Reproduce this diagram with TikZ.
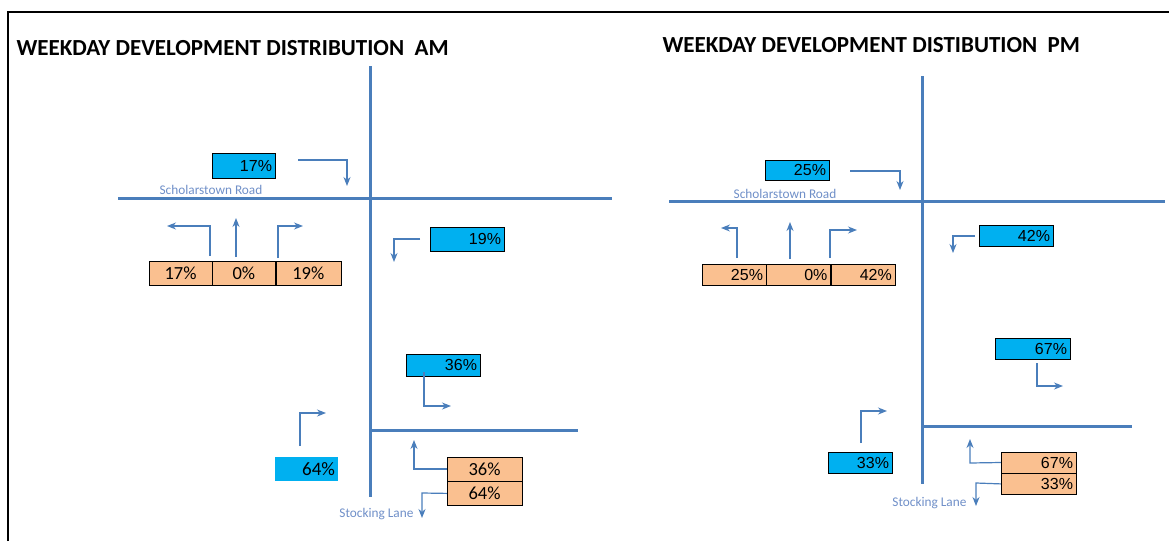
\documentclass[tikz,border=0pt]{standalone}
\usepackage{fontspec}
\setmainfont{Carlito}
\newfontfamily\arialf{Liberation Sans}
\usetikzlibrary{arrows.meta,positioning}
\definecolor{roadblue}{HTML}{4A7EBB}
\definecolor{boxblue}{HTML}{00B0F0}
\definecolor{boxorange}{HTML}{FAC090}
\definecolor{labelblue}{HTML}{6F8FC8}
\begin{document}
\begin{tikzpicture}[x=1pt,y=-1pt,
    road/.style={roadblue,line width=3pt},
    turn/.style={roadblue,line width=1.2pt,-{Stealth[length=9pt,width=7pt]}},
    bluebox/.style={draw,fill=boxblue,inner xsep=3pt,inner ysep=0pt,text width=#1,align=right,font=\arialf\fontsize{16}{18}\selectfont},
    orangebox/.style={draw,fill=boxorange,inner xsep=3pt,inner ysep=0pt,text width=#1,align=center,font=\fontsize{18.5}{20}\selectfont},
    title/.style={anchor=west,font=\bfseries\fontsize{23}{26}\selectfont},
    roadname/.style={labelblue,font=\fontsize{13.3}{15}\selectfont}]
\useasboundingbox (0,0) rectangle (1169,541);
\draw [line width=1.5pt] (8,541) -- (8,12) -- (1169,12);

% AM
\node [title] (tam) at (13,48) {WEEKDAY DEVELOPMENT DISTRIBUTION\ \ AM};
\draw [road] (370,66) -- (370,497);
\draw [road] (118,198) -- (612,198);
\draw [road] (370,430) -- (578,430);
\node [roadname] (sam) at (211,190) {Scholarstown Road};
\node [roadname,anchor=east] (lam) at (417,514) {Stocking Lane};

\node [bluebox=57pt,minimum height=25pt] (a17) at (243.5,165.5) {17\%};
\draw [turn] (298,160) -- (347,160) -- (347,186);

\node [orangebox=57pt,minimum height=24pt] (l17) at (180.5,273) {17\%};
\node [orangebox=57pt,minimum height=24pt,right=0pt of l17] (s0) {0\%};
\node [orangebox=59pt,minimum height=24pt,right=0pt of s0] (r19) {19\%};
\draw [turn] (210,256) -- (210,226) -- (167,226);
\draw [turn] (236,257) -- (236,218);
\draw [turn] (278,258) -- (278,226) -- (303,226);

\node [bluebox=68pt,minimum height=24pt] (a19) at (467,239) {19\%};
\draw [turn] (420,239) -- (394,239) -- (394,262);

\node [bluebox=68pt,minimum height=22pt] (a36) at (443,365) {36\%};
\draw [turn] (424,372) -- (424,406) -- (451,406);

\node [bluebox=57pt,minimum height=24pt,draw=none,align=right,font=\fontsize{19}{20}\selectfont] (a64) at (306.5,469) {64\%};
\draw [turn] (300,446) -- (300,413) -- (326,413);

\node [orangebox=69pt,minimum height=24pt] (o36) at (484.5,469) {36\%};
\node [orangebox=69pt,minimum height=24pt,below=0pt of o36] (o64) {64\%};
\draw [turn] (o36.west) -- (414,469) -- (414,440);
\draw [turn] (o64.west) -- (422,493) -- (422,518);

% PM
\node [title] (tpm) at (659,45) {WEEKDAY DEVELOPMENT DISTIBUTION\ \ PM};
\draw [road] (922,76) -- (922,484);
\draw [road] (669,201) -- (1165,201);
\draw [road] (922,426) -- (1132,426);
\node [roadname] (spm) at (785,194) {Scholarstown Road};
\node [roadname,anchor=east] (lpm) at (970,503) {Stocking Lane};

\node [bluebox=58pt,minimum height=20pt] (p25) at (797,170) {25\%};
\draw [turn] (850,171) -- (900,171) -- (900,190);

\node [bluebox=58pt,minimum height=21pt,fill=boxorange] (q25) at (734,274.5) {25\%};
\node [bluebox=58pt,minimum height=21pt,fill=boxorange,right=0pt of q25] (q0) {0\%};
\node [bluebox=58pt,minimum height=21pt,fill=boxorange,right=0pt of q0] (q42) {42\%};
\draw [turn] (737,258) -- (737,228) -- (721,228);
\draw [turn] (790,259) -- (790,222);
\draw [turn] (830,258) -- (830,230) -- (857,230);

\node [bluebox=68pt,minimum height=21pt] (p42) at (1016,235.5) {42\%};
\draw [turn] (975,236) -- (953,236) -- (953,253);

\node [bluebox=69pt,minimum height=21pt] (p67) at (1032.5,348.5) {67\%};
\draw [turn] (1037,363) -- (1037,386) -- (1063,386);

\node [bluebox=58pt,minimum height=21pt] (p33) at (860,462.5) {33\%};
\draw [turn] (861,443) -- (861,411) -- (887,411);

\node [bluebox=69pt,minimum height=21pt,fill=boxorange] (q67) at (1038.5,462.5) {67\%};
\node [bluebox=69pt,minimum height=21pt,fill=boxorange,below=0pt of q67] (q33) {33\%};
\draw [turn] (q67.west) -- (970,463) -- (970,439);
\draw [turn] (q33.west) -- (976,483) -- (976,506);
\end{tikzpicture}
\end{document}
